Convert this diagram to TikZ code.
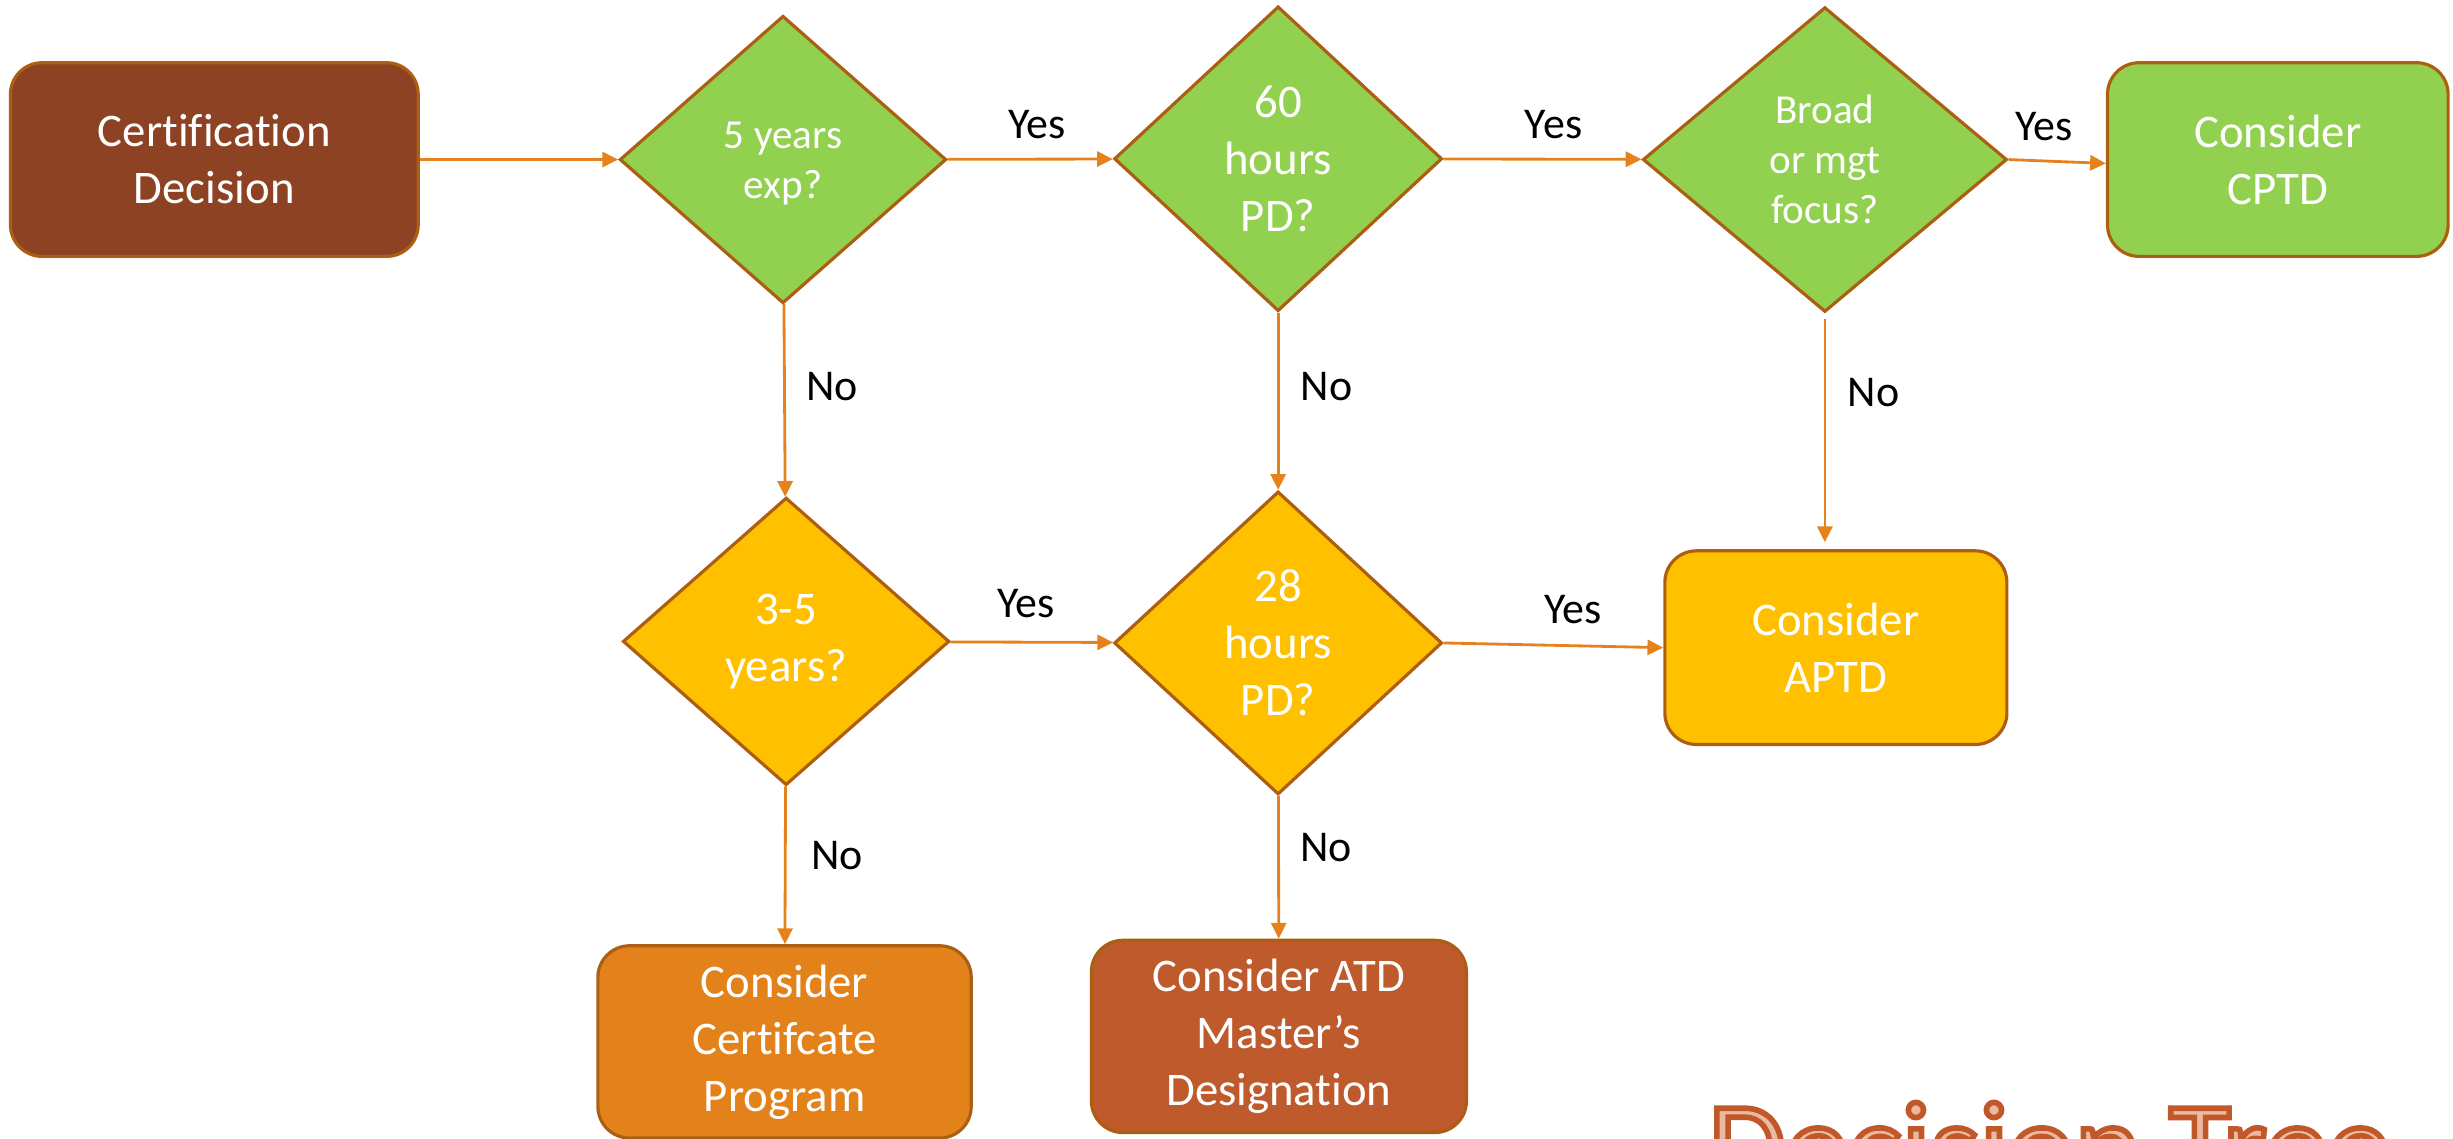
\documentclass[tikz,border=0pt]{standalone}
\usepackage{fontspec}
\setmainfont{Carlito}[Ligatures=CommonOff]
\usetikzlibrary{shapes.geometric,arrows.meta}
\definecolor{certbrown}{HTML}{8C4223}
\definecolor{gfill}{HTML}{92D050}
\definecolor{yfill}{HTML}{FFC000}
\definecolor{ofill}{HTML}{E3821A}
\definecolor{rfill}{HTML}{BE5A2C}
\definecolor{edgec}{HTML}{AC5E12}
\definecolor{arrowc}{HTML}{E5821D}
\definecolor{titlefill}{HTML}{EBB9A0}
\begin{document}
\begin{tikzpicture}[x=0.015644cm,y=-0.015644cm,
  box/.style={rectangle, rounded corners=9pt, draw=edgec, line width=0.9pt, text=white, align=center, inner sep=0pt, font=\fontsize{13.3}{16.2}\selectfont},
  dec/.style={diamond, draw=edgec, line width=0.9pt, text=white, align=center, inner sep=0pt, font=\fontsize{13.3}{16.2}\selectfont},
  smalltext/.style={font=\fontsize{11.7}{14.3}\selectfont},
  conn/.style={draw=arrowc, line width=0.8pt, -{Triangle[length=4.5pt,width=4.3pt]}},
  lab/.style={font=\fontsize{12.5}{15}\selectfont, text=black, anchor=base, inner sep=0pt}]
\useasboundingbox (0,0) rectangle (1568,728);

% decision nodes and boxes
\node[box, fill=certbrown, minimum width=116pt, minimum height=55.1pt] (cert) at (137,102) {Certification\\Decision};
\node[dec, smalltext, fill=gfill, minimum width=92.9pt, minimum height=81.8pt] (d1) at (500.5,102) {\rule{0pt}{10pt}5 years\\exp?};
\node[dec, fill=gfill, minimum width=93.3pt, minimum height=86.7pt] (d2) at (817,101.5) {60\\hours\\PD?};
\node[dec, smalltext, fill=gfill, minimum width=103.6pt, minimum height=86.7pt] (d3) at (1166.5,102) {Broad\\or mgt\\focus?};
\node[box, fill=gfill, minimum width=96.9pt, minimum height=55.1pt] (cptd) at (1456,102) {Consider\\CPTD};
\node[dec, fill=yfill, minimum width=92.9pt, minimum height=81.8pt] (d4) at (502.5,410) {3-5\\years?};
\node[dec, fill=yfill, minimum width=93.3pt, minimum height=86.2pt] (d5) at (817,411) {28\\hours\\PD?};
\node[box, fill=yfill, minimum width=97.3pt, minimum height=55.1pt] (aptd) at (1173.5,414) {Consider\\APTD};
\node[box, fill=ofill, minimum width=106.2pt, minimum height=54.7pt] (cprog) at (501.5,666) {Consider\\Certifcate\\Program};
\node[box, fill=rfill, minimum width=106.7pt, minimum height=54.7pt] (atd) at (817.5,662.5) {Consider ATD\\Master’s\\Designation};

% connectors
\draw[conn] (cert) -- (d1);
\draw[conn] (d1) -- (d2);
\draw[conn] (d2) -- (d3);
\draw[conn] (d3.east) -- ([yshift=-1.1pt]cptd.west);
\draw[conn] (d1) -- (d4);
\draw[conn] (d2) -- (d5);
\draw[conn, shorten <=1.5pt, shorten >=2pt] (d3.south) -- (d3.south |- aptd.north);
\draw[conn] (d4) -- (d5);
\draw[conn] (d5.east) -- (aptd.west);
\draw[conn] (d4) -- (cprog);
\draw[conn] (d5) -- (atd);

% labels
\node[lab] (y1) at (663,88.5) {Yes};
\node[lab] (y2) at (993,88.5) {Yes};
\node[lab] (y3) at (1306.5,89.5) {Yes};
\node[lab] (y4) at (656,395) {Yes};
\node[lab] (y5) at (1005.5,398.5) {Yes};
\node[lab] (n1) at (532,256) {No};
\node[lab] (n2) at (848,256) {No};
\node[lab] (n3) at (1197.6,260) {No};
\node[lab] (n4) at (535,555.7) {No};
\node[lab] (n5) at (847.8,550.8) {No};

% title (cut off at the bottom edge, as in the reference)
\begin{scope}
\clip (0,0) rectangle (1568,728);
\node[anchor=base west, inner sep=0pt, text=titlefill, font=\fontsize{35.8}{40}\selectfont] (title) at (1091.5,760) {\special{pdf:literal direct 2 Tr 1.6 w 0.753 0.345 0.165 RG}Decision Tree\special{pdf:literal direct 0 Tr}};
\end{scope}
\end{tikzpicture}
\end{document}
